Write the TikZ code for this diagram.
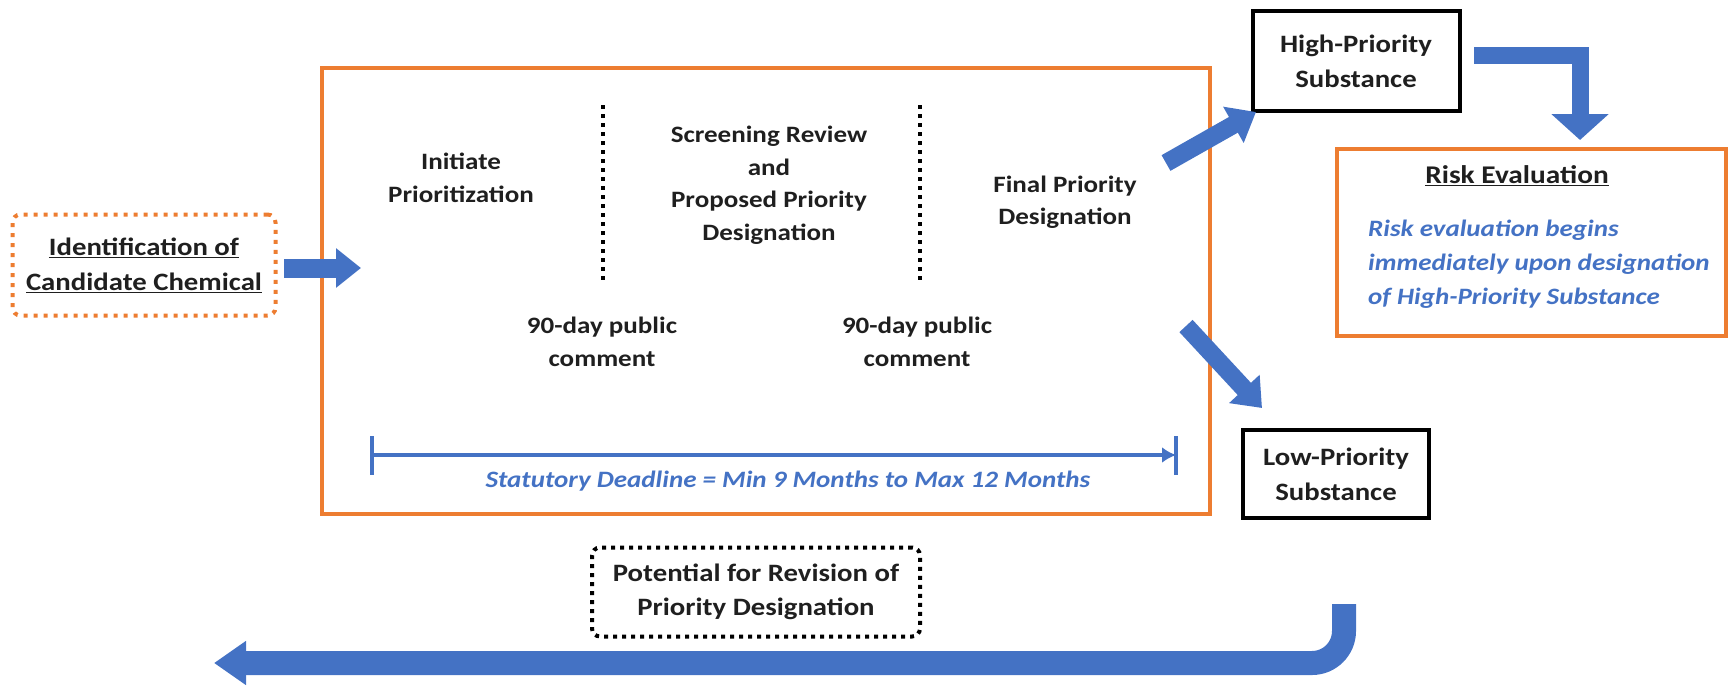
\documentclass[tikz,border=0pt]{standalone}
\usepackage{fontspec}
\setmainfont{Carlito}[FakeStretch=1.15]
\usetikzlibrary{arrows.meta}
\definecolor{obox}{HTML}{ED7D31}
\definecolor{barrow}{HTML}{4472C4}
\definecolor{btext}{HTML}{4472C4}
\begin{document}
\begin{tikzpicture}[x=1pt,y=-1pt,
  lbl/.style={font=\fontsize{23.5}{32.5}\selectfont\bfseries, align=center, inner sep=0pt, text=black!88},
  blbl/.style={font=\fontsize{23.5}{34}\selectfont\bfseries\itshape, inner sep=0pt, text=btext},
  blackbox/.style={draw=black, line width=4pt, minimum width=207pt, minimum height=99pt, lbl,
                   font=\fontsize{25}{35}\selectfont\bfseries},
  dotline/.style={draw=black, line width=4pt, dash pattern=on 4pt off 5pt},
  bigarrow/.style={draw=barrow, line width=#1},
  ]
\useasboundingbox (0,0) rectangle (1728,685);

% main orange box
\node[draw=obox, line width=4pt, minimum width=888pt, minimum height=446pt, inner sep=0pt] (main) at (766,291) {};

% identification box
\node[draw=obox, line width=4pt, dash pattern=on 4pt off 6pt, rounded corners=8pt,
      minimum width=263pt, minimum height=101pt, align=center, inner sep=0pt,
      font=\fontsize{25}{35}\selectfont\bfseries, text=black!88] (ident) at (144,265)
      {\underline{Identification of}\\\underline{Candidate Chemical}};

% stage labels
\node[lbl] (init) at (461,178) {Initiate\\Prioritization};
\node[lbl] (screen) at (769,185) {Screening Review\\and\\Proposed Priority\\Designation};
\node[lbl] (final) at (1065,202) {Final Priority\\Designation};
\node[lbl] (c1) at (602,342) {90-day public\\comment};
\node[lbl] (c2) at (917,342) {90-day public\\comment};

% dotted separators
\coordinate (d1t) at (603,105); \coordinate (d1b) at (603,281);
\coordinate (d2t) at (920,105); \coordinate (d2b) at (920,281);
\draw[dotline] (d1t) -- (d1b);
\draw[dotline] (d2t) -- (d2b);

% timeline
\coordinate (tl) at (372,455); \coordinate (tr) at (1176,455);
\coordinate (tlt) at (372,436); \coordinate (tlb) at (372,475);
\coordinate (trt) at (1176,436); \coordinate (trb) at (1176,475);
\draw[barrow, line width=3.5pt, -{Latex[length=14pt,width=16pt]}] (tl) -- (tr);
\draw[barrow, line width=3.5pt] (tlt) -- (tlb);
\draw[barrow, line width=3.5pt] (trt) -- (trb);
\node[blbl] (stat) at (788,481) {Statutory Deadline = Min 9 Months to Max 12 Months};

% right side boxes
\node[blackbox] (high) at (1356,61) {High-Priority\\Substance};
\node[blackbox, minimum width=186pt, minimum height=88pt] (low) at (1336,474) {Low-Priority\\Substance};
\node[draw=obox, line width=4pt, minimum width=389pt, minimum height=187pt, inner sep=0pt] (risk) at (1531.5,242.5) {};
\node[lbl, font=\fontsize{25.5}{32}\selectfont\bfseries] (risktitle) at (1517,176) {\underline{Risk Evaluation}};
\node[blbl, align=left, anchor=west] (risktext) at (1368,264) {Risk evaluation begins\\immediately upon designation\\of High-Priority Substance};

% potential revision box
\node[draw=black, line width=4pt, dash pattern=on 4pt off 5pt, rounded corners=8pt,
      minimum width=328pt, minimum height=89pt, lbl, font=\fontsize{25}{34}\selectfont\bfseries] (pot) at (756,592)
      {Potential for Revision of\\Priority Designation};

% block arrows
\coordinate (a1s) at (284,268); \coordinate (a1e) at (361,268);
\draw[bigarrow=19pt, -{Triangle[length=25pt,width=38pt]}] (a1s) -- (a1e);

\coordinate (a2s) at (1166,163); \coordinate (a2e) at (1256,112);
\draw[bigarrow=18pt, -{Triangle[length=26pt,width=40pt]}] (a2s) -- (a2e);

\coordinate (a3s) at (1186,326); \coordinate (a3e) at (1262,408);
\draw[bigarrow=18pt, -{Triangle[length=26pt,width=40pt]}] (a3s) -- (a3e);

\coordinate (a4s) at (1474,56); \coordinate (a4e) at (1580,140);
\draw[bigarrow=17pt, -{Triangle[length=26pt,width=56pt]}] (a4s) -| (a4e);

\coordinate (a5s) at (1344,604); \coordinate (a5e) at (214,663);
\draw[bigarrow=24pt, rounded corners=32pt, -{Triangle[length=32pt,width=42pt]}] (a5s) |- (a5e);
\end{tikzpicture}
\end{document}
